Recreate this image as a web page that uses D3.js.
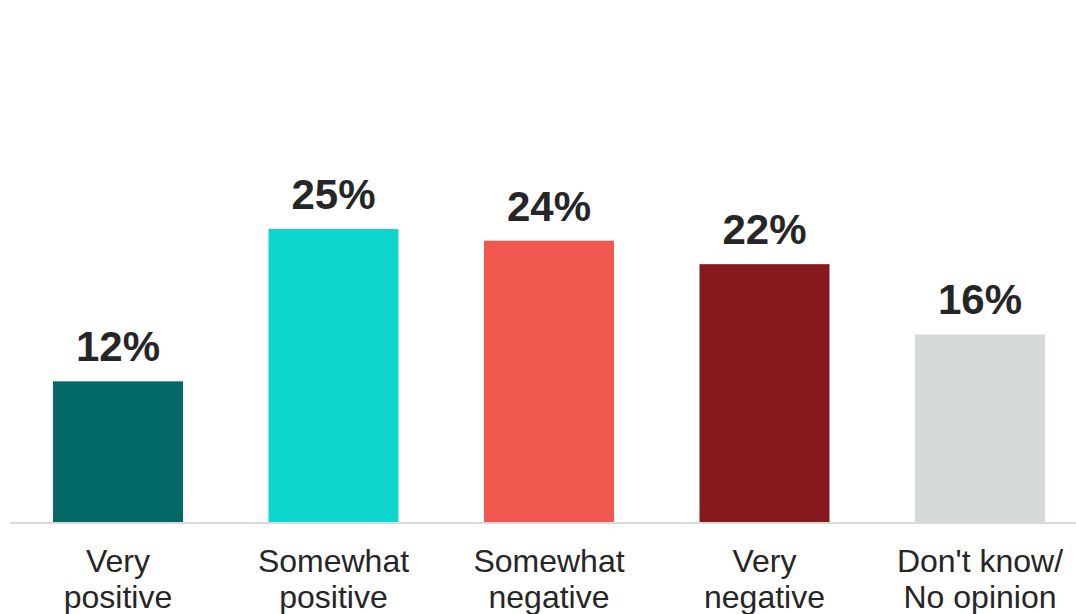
<!DOCTYPE html>
<html>
<head>
<meta charset="utf-8">
<script src="https://cdn.jsdelivr.net/npm/d3@7"></script>
<style>
  html, body { margin: 0; padding: 0; background: #fff; }
  svg { display: block; }
</style>
</head>
<body>
<script>
const categories = ["Very positive", "Somewhat positive", "Somewhat negative", "Very negative", "Don't know/ No opinion"];
const labelLines = [["Very", "positive"], ["Somewhat", "positive"], ["Somewhat", "negative"], ["Very", "negative"], ["Don't know/", "No opinion"]];
const values = [12, 25, 24, 22, 16];
const colors = ["#036966", "#0fd6cc", "#f0574f", "#85191e", "#d5d9da"];

const W = 1076, H = 614;
const svg = d3.select("body").append("svg").attr("width", W).attr("height", H);

const x = d3.scaleBand().domain(categories).range([10.25, 1087.75])
  .paddingInner(0.3968).paddingOuter(0.1984);
const y = d3.scaleLinear().domain([0, 25]).range([522, 229]);

svg.append("g").selectAll("rect").data(values).join("rect")
  .attr("x", (d, i) => x(categories[i]))
  .attr("width", x.bandwidth())
  .attr("y", d => y(d))
  .attr("height", d => y(0) - y(d))
  .attr("fill", (d, i) => colors[i]);

svg.append("line").attr("x1", 10).attr("x2", W).attr("y1", y(0) + 1).attr("y2", y(0) + 1)
  .attr("stroke", "#d9d9d9").attr("stroke-width", 2);

svg.append("g").selectAll("text").data(values).join("text")
  .attr("x", (d, i) => x(categories[i]) + x.bandwidth() / 2)
  .attr("y", d => y(d) - 20)
  .attr("text-anchor", "middle")
  .attr("font-family", "Liberation Sans, Arial, sans-serif")
  .attr("font-weight", "bold")
  .attr("font-size", 42)
  .attr("fill", "#262626")
  .text(d => d + "%");

const lab = svg.append("g").selectAll("text").data(categories).join("text")
  .attr("x", d => x(d) + x.bandwidth() / 2)
  .attr("y", 572)
  .attr("text-anchor", "middle")
  .attr("font-family", "Liberation Sans, Arial, sans-serif")
  .attr("font-size", 32)
  .attr("fill", "#262626");
lab.each(function(d, i) {
  const t = d3.select(this);
  labelLines[i].forEach((s, j) => {
    t.append("tspan").attr("x", x(d) + x.bandwidth() / 2).attr("dy", j === 0 ? 0 : 36).text(s);
  });
});
</script>
</body>
</html>
